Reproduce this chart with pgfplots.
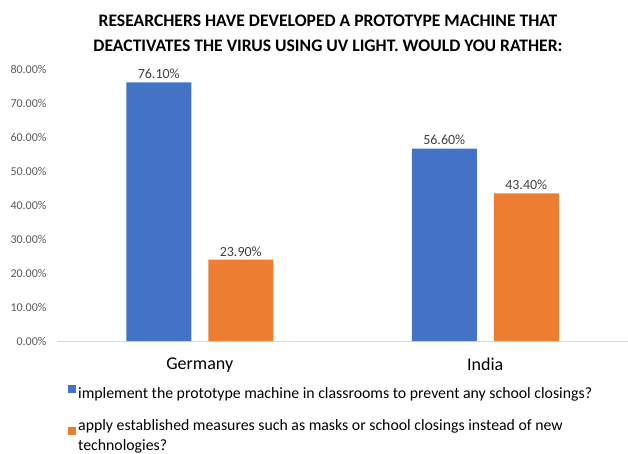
\documentclass[border=0pt]{standalone}
\usepackage{fontspec}
\setmainfont{Carlito}
\usepackage{pgfplots}
\pgfplotsset{compat=1.18}
\definecolor{xblue}{HTML}{4472C4}
\definecolor{xorange}{HTML}{ED7D31}
\definecolor{ticktext}{HTML}{595959}
\definecolor{labeltext}{HTML}{404040}
\definecolor{axisgray}{HTML}{D9D9D9}

\begin{document}
\begin{tikzpicture}[x=1pt,y=1pt]
\begin{axis}[
    at={(0,0)}, anchor=south west,
    scale only axis,
    width=571pt, height=272pt,
    ybar=17pt, bar width=65pt,
    xmin=-0.5, xmax=1.5,
    ymin=0, ymax=80,
    xtick={0,1}, xticklabels={Germany,India},
    ytick={0,10,...,80},
    axis lines*=left,
    y axis line style={draw=none},
    x axis line style={draw=axisgray, line width=1pt},
    tick style={draw=none},
    major tick length=0pt,
    /pgf/number format/assume math mode=true,
    yticklabel={\pgfmathprintnumber[fixed,fixed zerofill,precision=2]{\tick}\%},
    yticklabel style={font=\fontsize{12}{14}\selectfont, text=ticktext, xshift=-7pt},
    xticklabel style={font=\fontsize{18}{20}\selectfont, text=black, yshift=-13pt},
    nodes near coords={\pgfmathprintnumber[fixed,fixed zerofill,precision=2]{\pgfplotspointmeta}\%},
    nodes near coords style={font=\fontsize{14}{16}\selectfont, text=labeltext},
    legend style={draw=none, at={(axis description cs:0,0)}, anchor=north west,
        xshift=8pt, yshift=-42pt, font=\fontsize{15.8}{19.5}\selectfont,
        nodes={align=left}, row sep=16pt},
    legend cell align=left,
    legend image code/.code={\fill[#1,draw=none] (0pt,0.5pt) rectangle (8pt,8.5pt);},
]
\addplot[fill=xblue, draw=none] coordinates {(0,76.1) (1,56.6)};
\addlegendentry{implement the prototype machine in classrooms to prevent any school closings?}
\addplot[fill=xorange, draw=none] coordinates {(0,23.9) (1,43.4)};
\addlegendentry{apply established measures such as masks or school closings instead of new\\technologies?}
\end{axis}
\node[font=\bfseries\fontsize{17.6}{25}\selectfont, align=center] at (271,308)
  {RESEARCHERS HAVE DEVELOPED A PROTOTYPE MACHINE THAT\\DEACTIVATES THE VIRUS USING UV LIGHT. WOULD YOU RATHER:};
\pgfresetboundingbox
\path[use as bounding box] (-57,-112) rectangle (571,341);
\end{tikzpicture}
\end{document}
